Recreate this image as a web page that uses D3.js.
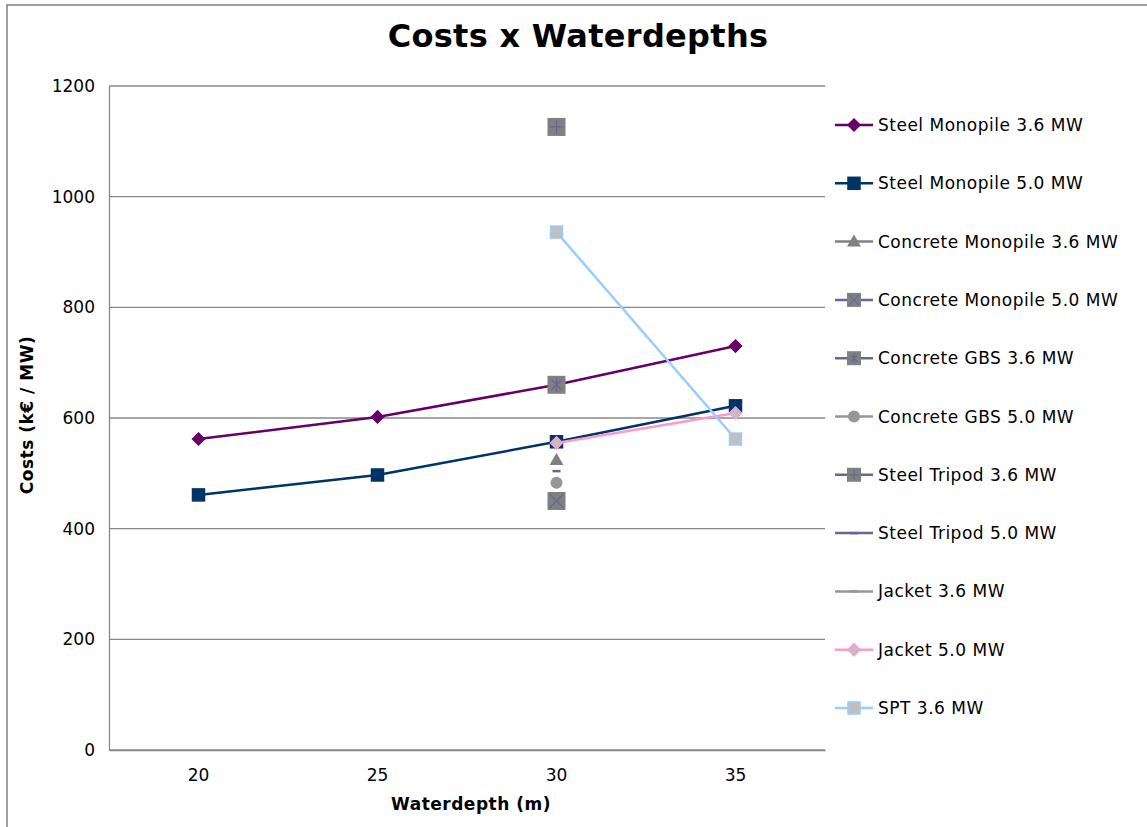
<!DOCTYPE html>
<html><head><meta charset="utf-8">
<script src="https://cdn.jsdelivr.net/npm/d3@7"></script>
<style>body{margin:0;background:#fff;} text{font-family:"DejaVu Sans",Verdana,sans-serif;}</style>
</head><body>
<svg id="c" width="1147" height="827"></svg>
<script>
const categories = [20, 25, 30, 35];
const yTicks = [0, 200, 400, 600, 800, 1000, 1200];
const seriesNames = ["Steel Monopile 3.6 MW","Steel Monopile 5.0 MW","Concrete Monopile 3.6 MW","Concrete Monopile 5.0 MW","Concrete GBS 3.6 MW","Concrete GBS 5.0 MW","Steel Tripod 3.6 MW","Steel Tripod 5.0 MW","Jacket 3.6 MW","Jacket 5.0 MW","SPT 3.6 MW"];
const steelMono36 = [562, 602, 660, 730];
const steelMono50 = [461, 497, 557, 622];
const concMono36 = [null, null, 524, null];
const concMono50 = [null, null, 450, null];
const concGBS36 = [null, null, 660, null];
const concGBS50 = [null, null, 483, null];
const steelTri36 = [null, null, 1126, null];
const steelTri50 = [null, null, 504, null];
const jacket36 = [null, null, 556, null];
const jacket50 = [null, null, 555, 609];
const spt36 = [null, null, 936, 562];
const seriesValues = [steelMono36, steelMono50, concMono36, concMono50, concGBS36, concGBS50, steelTri36, steelTri50, jacket36, jacket50, spt36];
const styles = [
  {line:"#660066", marker:"diamond", fill:"#660066", stroke:"#660066"},
  {line:"#003366", marker:"square", fill:"#003366", stroke:"#003366"},
  {line:"#808080", marker:"triangle", fill:"#808080", stroke:"#808080"},
  {line:"#666699", marker:"xbox", fill:"#808080", stroke:"#666699"},
  {line:"#666699", marker:"starbox", fill:"#808080", stroke:"#666699"},
  {line:"#969696", marker:"circle", fill:"#969696", stroke:"#969696"},
  {line:"#666699", marker:"plusbox", fill:"#808080", stroke:"#666699"},
  {line:"#666699", marker:"dash", fill:"#666699", stroke:"#666699"},
  {line:"#969696", marker:"dash", fill:"#969696", stroke:"#969696"},
  {line:"#FF99CC", marker:"diamond", fill:"#C0C0C0", stroke:"#FF99CC"},
  {line:"#99CCFF", marker:"square", fill:"#C0C0C0", stroke:"#99CCFF"}
];

const svg = d3.select("#c");
// outer border
svg.append("rect").attr("x",7).attr("y",5).attr("width",1147).attr("height",827)
  .attr("fill","none").attr("stroke","#808080").attr("stroke-width",1.5);

const L=109, R=825, T=86, B=750;
const x = d3.scaleBand().domain(categories).range([L,R]);
const xc = d => x(d) + x.bandwidth()/2;
const y = d3.scaleLinear().domain([0,1200]).range([B,T]);

// gridlines
svg.append("g").selectAll("line").data(yTicks).join("line")
  .attr("x1",L).attr("x2",R).attr("y1",d=>y(d)).attr("y2",d=>y(d))
  .attr("stroke","#888").attr("stroke-width",1.3);
// y axis
const ya = svg.append("g").attr("transform",`translate(${L},0)`)
  .call(d3.axisLeft(y).tickValues(yTicks).tickFormat(d3.format("d")).tickSize(0).tickPadding(14));
ya.select(".domain").attr("stroke","#888").attr("stroke-width",1.3);
ya.selectAll("text").attr("font-size",17).attr("fill","#000").attr("font-family","DejaVu Sans");
// x axis
const xa = svg.append("g").attr("transform",`translate(0,${B})`)
  .call(d3.axisBottom(x).tickSize(0).tickPadding(19));
xa.select(".domain").attr("stroke","#888").attr("stroke-width",1.3);
xa.selectAll("text").attr("font-size",17).attr("fill","#000").attr("font-family","DejaVu Sans");

// titles
svg.append("text").attr("x",578).attr("y",47).attr("text-anchor","middle")
  .attr("font-size",32).attr("font-weight","bold").attr("letter-spacing",0.3).text("Costs x Waterdepths");
svg.append("text").attr("x",471).attr("y",810).attr("text-anchor","middle")
  .attr("font-size",17).attr("font-weight","bold").attr("letter-spacing",0.5).text("Waterdepth (m)");
svg.append("text").attr("transform","translate(33,415) rotate(-90)").attr("text-anchor","middle")
  .attr("font-size",17).attr("font-weight","bold").attr("letter-spacing",0.5).text("Costs (k€ / MW)");

function drawMarker(g, st, cx, cy, box){
  const m = st.marker;
  box = box || 18;
  if(m==="diamond"){
    g.append("path").attr("d",`M${cx},${cy-6}L${cx+6},${cy}L${cx},${cy+6}L${cx-6},${cy}Z`)
      .attr("fill",st.fill).attr("stroke",st.stroke).attr("stroke-width",1.5);
  } else if(m==="square"){
    g.append("rect").attr("x",cx-6).attr("y",cy-6).attr("width",12).attr("height",12)
      .attr("fill",st.fill).attr("stroke",st.stroke).attr("stroke-width",1.5);
  } else if(m==="triangle"){
    g.append("path").attr("d",`M${cx},${cy-7}L${cx+7},${cy+5}L${cx-7},${cy+5}Z`).attr("fill",st.fill);
  } else if(m==="circle"){
    g.append("circle").attr("cx",cx).attr("cy",cy).attr("r",6).attr("fill",st.fill);
  } else if(m==="dash"){
    g.append("line").attr("x1",cx-4).attr("x2",cx+4).attr("y1",cy).attr("y2",cy)
      .attr("stroke",st.stroke).attr("stroke-width",2.5);
  } else {
    const h = box/2;
    g.append("rect").attr("x",cx-h).attr("y",cy-h).attr("width",box).attr("height",box).attr("fill",st.fill);
    const s=h-2, s2=h-4;
    let d="";
    if(m==="xbox") d=`M${cx-s},${cy-s}L${cx+s},${cy+s}M${cx+s},${cy-s}L${cx-s},${cy+s}`;
    if(m==="plusbox") d=`M${cx-s},${cy}L${cx+s},${cy}M${cx},${cy-s}L${cx},${cy+s}`;
    if(m==="starbox") d=`M${cx-s2},${cy-s2}L${cx+s2},${cy+s2}M${cx+s2},${cy-s2}L${cx-s2},${cy+s2}M${cx},${cy-s}L${cx},${cy+s}`;
    g.append("path").attr("d",d).attr("stroke",st.stroke).attr("stroke-width",1.3).attr("fill","none");
  }
}

const line = d3.line().defined(d=>d.v!=null).x(d=>xc(d.c)).y(d=>y(d.v));
seriesValues.forEach((vals,i)=>{
  const st = styles[i];
  const pts = categories.map((c,j)=>({c, v: vals[j]}));
  const g = svg.append("g");
  g.append("path").datum(pts).attr("d",line).attr("fill","none")
    .attr("stroke",st.line).attr("stroke-width",2.5);
  pts.filter(p=>p.v!=null).forEach(p=>drawMarker(g, st, xc(p.c), y(p.v)));
});

// legend
const lg = svg.append("g");
seriesNames.forEach((n,i)=>{
  const ly = 125 + i*58.3;
  const st = styles[i];
  lg.append("line").attr("x1",835).attr("x2",873).attr("y1",ly).attr("y2",ly)
    .attr("stroke",st.line).attr("stroke-width",2.5);
  drawMarker(lg, st, 854, ly, 14);
  lg.append("text").attr("x",878).attr("y",ly+6).attr("font-size",17).attr("letter-spacing",0.5).text(n);
});
</script>
</body></html>
